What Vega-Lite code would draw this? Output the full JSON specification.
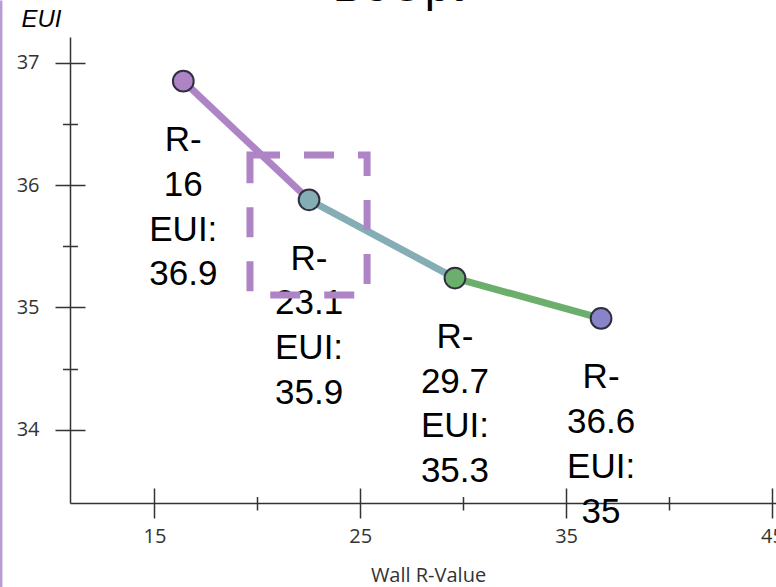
{
  "$schema": "https://vega.github.io/schema/vega-lite/v6.json",
  "width": 706,
  "height": 466,
  "autosize": "none",
  "padding": {"left": 70, "top": 37, "right": 0, "bottom": 84},
  "background": "white",
  "config": {
    "view": {"stroke": null},
    "axis": {
      "grid": false,
      "domainColor": "#333333",
      "tickColor": "#333333",
      "labelColor": "#333333",
      "domainWidth": 1.5,
      "tickWidth": 1.5,
      "labelFont": "Open Sans",
      "labelFontSize": 20
    }
  },
  "title": {
    "text": "BeOpt",
    "frame": "group",
    "anchor": "middle",
    "baseline": "alphabetic",
    "offset": 0,
    "dx": -25,
    "dy": 48,
    "font": "Liberation Sans",
    "fontSize": 46,
    "fontWeight": "normal",
    "color": "#000000"
  },
  "datasets": {
    "points": [
      {"name": "R-16", "rx": 16.40, "eui": 36.85, "label": "R-\n16\nEUI:\n36.9"},
      {"name": "R-23.1", "rx": 22.51, "eui": 35.88, "label": "R-\n23.1\nEUI:\n35.9"},
      {"name": "R-29.7", "rx": 29.60, "eui": 35.24, "label": "R-\n29.7\nEUI:\n35.3"},
      {"name": "R-36.6", "rx": 36.70, "eui": 34.91, "label": "R-\n36.6\nEUI:\n35"}
    ],
    "segments": [
      {"name": "R-16", "x1": 16.40, "y1": 36.85, "x2": 22.51, "y2": 35.88},
      {"name": "R-23.1", "x1": 22.51, "y1": 35.88, "x2": 29.60, "y2": 35.24},
      {"name": "R-29.7", "x1": 29.60, "y1": 35.24, "x2": 36.70, "y2": 34.91}
    ],
    "box": [{"bx1": 19.64, "bx2": 25.33, "by1": 36.246, "by2": 35.101}],
    "border": [{"lx": 7.55, "ly1": 37.51, "ly2": 32.71}]
  },
  "resolve": {"axis": {"x": "independent", "y": "independent"}},
  "layer": [
    {
      "data": {"name": "segments"},
      "mark": {"type": "rule", "strokeWidth": 7, "strokeCap": "butt"},
      "encoding": {
        "x": {
          "field": "x1", "type": "quantitative",
          "scale": {"domain": [10.894, 45.2], "nice": false, "zero": false},
          "axis": {
            "orient": "bottom", "values": [15, 25, 35, 45], "tickSize": 15, "labelPadding": 8,
            "title": "Wall R-Value", "titleX": 358, "titleY": 78, "titleAlign": "center",
            "titleBaseline": "alphabetic", "titleFont": "Open Sans", "titleFontSize": 20,
            "titleFontWeight": "normal", "titleColor": "#333333"
          }
        },
        "x2": {"field": "x2"},
        "y": {
          "field": "y1", "type": "quantitative",
          "scale": {"domain": [33.401, 37.211], "nice": false, "zero": false},
          "axis": {
            "orient": "left", "values": [34, 35, 36, 37], "tickSize": 15, "labelPadding": 16,
            "title": "EUI", "titleAngle": 0, "titleX": -29, "titleY": -11, "titleAlign": "center",
            "titleBaseline": "alphabetic", "titleFont": "Liberation Sans", "titleFontStyle": "italic",
            "titleFontSize": 24, "titleFontWeight": "normal", "titleColor": "#000000"
          }
        },
        "y2": {"field": "y2"},
        "color": {
          "field": "name", "type": "nominal", "legend": null,
          "scale": {"domain": ["R-16", "R-23.1", "R-29.7", "R-36.6"], "range": ["#ae84c6", "#84adb6", "#6cae6b", "#8884c9"]}
        }
      }
    },
    {
      "data": {"name": "points"},
      "mark": {"type": "point", "filled": true, "shape": "circle", "size": 430, "stroke": "#2f2f3f", "strokeWidth": 2, "opacity": 1},
      "encoding": {
        "x": {"field": "rx", "type": "quantitative", "axis": {"orient": "bottom", "values": [15, 25, 35, 45], "tickSize": -15, "labels": false, "domain": false, "title": null}},
        "y": {"field": "eui", "type": "quantitative", "axis": {"orient": "left", "values": [34, 35, 36, 37], "tickSize": -15, "labels": false, "domain": false, "title": null}},
        "fill": {"field": "name", "type": "nominal", "legend": null, "scale": {"domain": ["R-16", "R-23.1", "R-29.7", "R-36.6"], "range": ["#ae84c6", "#84adb6", "#6cae6b", "#8884c9"]}}
      }
    },
    {
      "data": {"name": "points"},
      "mark": {"type": "text", "font": "Liberation Sans", "fontSize": 35, "lineHeight": 44.7, "lineBreak": "\n", "align": "center", "baseline": "top", "dy": 42, "color": "#000000"},
      "encoding": {
        "x": {"field": "rx", "type": "quantitative", "axis": {"orient": "bottom", "values": [20, 30, 40], "tickSize": 7, "labels": false, "domain": false, "title": null}},
        "y": {"field": "eui", "type": "quantitative", "axis": {"orient": "left", "values": [34.5, 35.5, 36.5], "tickSize": 7.5, "labels": false, "domain": false, "title": null}},
        "text": {"field": "label"}
      }
    },
    {
      "data": {"name": "box"},
      "mark": {"type": "rect", "fill": null, "filled": false, "stroke": "#ae84c6", "strokeWidth": 7, "strokeDash": [30, 24]},
      "encoding": {
        "x": {"field": "bx1", "type": "quantitative", "axis": {"orient": "bottom", "values": [20, 30, 40], "tickSize": -6.5, "labels": false, "domain": false, "title": null}},
        "x2": {"field": "bx2"},
        "y": {"field": "by1", "type": "quantitative", "axis": {"orient": "left", "values": [34.5, 35.5, 36.5], "tickSize": -7.5, "labels": false, "domain": false, "title": null}},
        "y2": {"field": "by2"}
      }
    },
    {
      "data": {"name": "border"},
      "mark": {"type": "rule", "strokeWidth": 2.5, "color": "#b99ad4"},
      "encoding": {
        "x": {"field": "lx", "type": "quantitative", "axis": null},
        "y": {"field": "ly1", "type": "quantitative", "axis": null},
        "y2": {"field": "ly2"}
      }
    }
  ]
}
